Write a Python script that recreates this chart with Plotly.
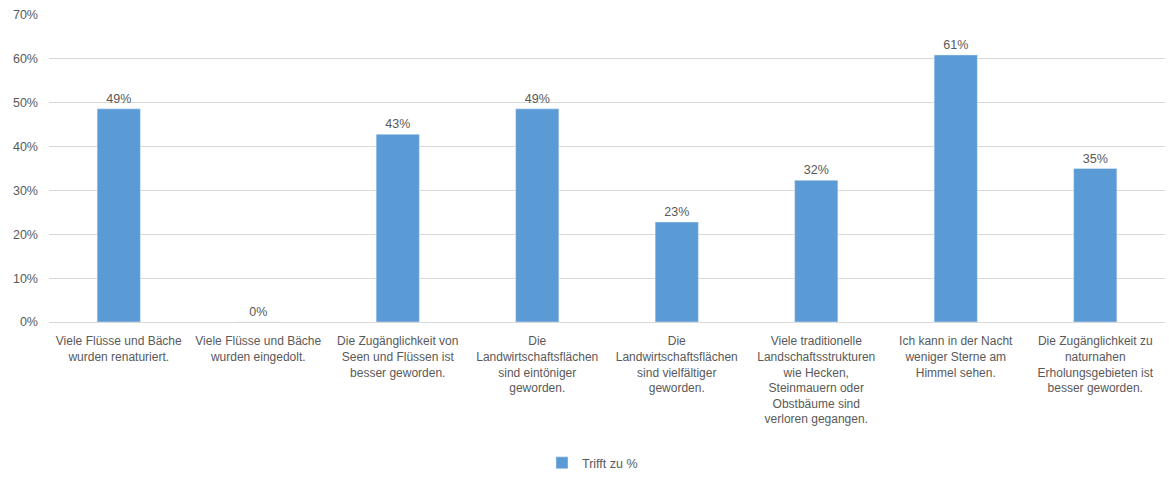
import plotly.graph_objects as go

categories = [
    "Viele Flüsse und Bäche<br>wurden renaturiert.",
    "Viele Flüsse und Bäche<br>wurden eingedolt.",
    "Die Zugänglichkeit von<br>Seen und Flüssen ist<br>besser geworden.",
    "Die<br>Landwirtschaftsflächen<br>sind eintöniger<br>geworden.",
    "Die<br>Landwirtschaftsflächen<br>sind vielfältiger<br>geworden.",
    "Viele traditionelle<br>Landschaftsstrukturen<br>wie Hecken,<br>Steinmauern oder<br>Obstbäume sind<br>verloren gegangen.",
    "Ich kann in der Nacht<br>weniger Sterne am<br>Himmel sehen.",
    "Die Zugänglichkeit zu<br>naturnahen<br>Erholungsgebieten ist<br>besser geworden.",
]
values = [0.486, 0.0, 0.428, 0.486, 0.228, 0.323, 0.609, 0.350]
series_name = "Trifft zu %"
y_ticks = [0, 0.1, 0.2, 0.3, 0.4, 0.5, 0.6, 0.7]

FONT = "Liberation Sans"
GRAY = "#595959"

fig = go.Figure()
fig.add_trace(go.Bar(
    x=list(range(len(categories))),
    y=values,
    name=series_name,
    marker=dict(color="#5b9bd5"),
    texttemplate="%{y:.0%}",
    textposition="outside",
    textfont=dict(family=FONT, size=12.5, color=GRAY),
    cliponaxis=False,
    showlegend=True,
))

fig.update_layout(
    width=1169, height=480,
    margin=dict(l=49, r=4, t=15, b=157),
    paper_bgcolor="white", plot_bgcolor="white",
    bargap=0.69,
    font=dict(family=FONT, size=12, color=GRAY),
    legend=dict(orientation="h", x=0.487, xanchor="center", y=-0.455, yanchor="middle",
                font=dict(family=FONT, size=12.5, color=GRAY)),
    xaxis=dict(
        tickmode="array",
        tickvals=list(range(len(categories))),
        ticktext=categories,
        tickangle=0,
        range=[-0.5, len(categories) - 0.5],
        showline=True, linecolor="#d9d9d9", linewidth=1,
        tickfont=dict(family=FONT, size=12, color=GRAY),
        ticks="", ticklabelstandoff=8,
        automargin=False,
    ),
    yaxis=dict(
        range=[0, 0.7],
        tickvals=y_ticks,
        tickformat=".0%",
        showgrid=True, gridcolor="#d9d9d9", gridwidth=1,
        zeroline=False,
        tickfont=dict(family=FONT, size=12.5, color=GRAY),
        ticks="", ticklabelstandoff=10,
        automargin=False,
    ),
)

fig.write_html("out.html", config={"displayModeBar": False},
               post_script="document.body.style.margin='0';")
